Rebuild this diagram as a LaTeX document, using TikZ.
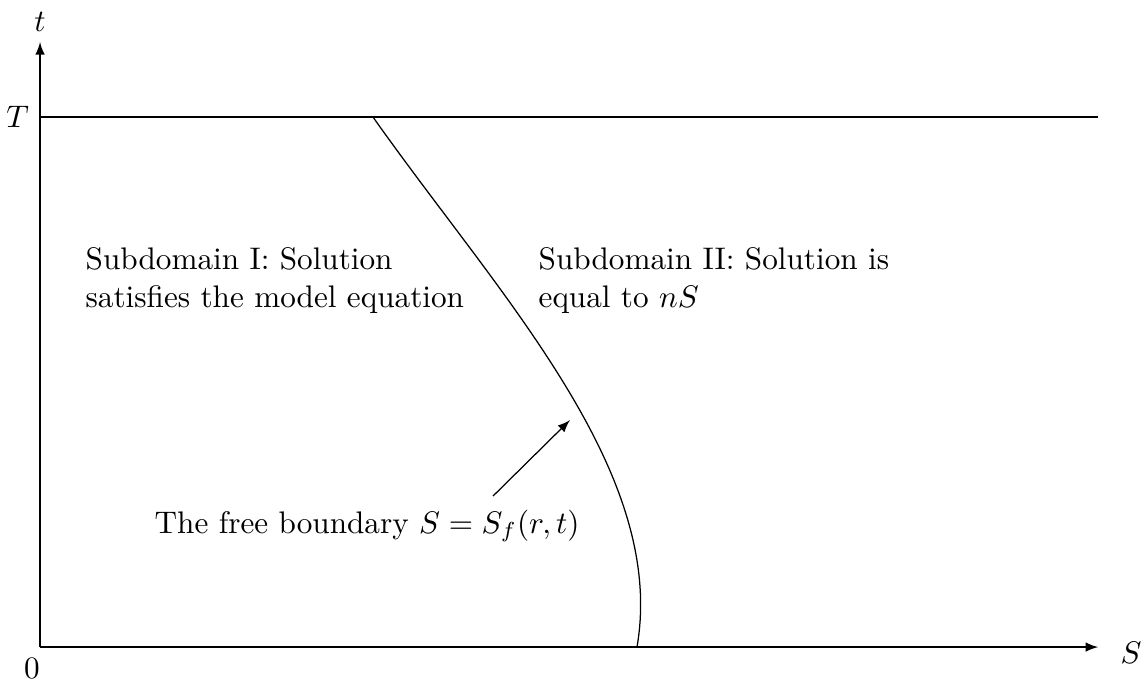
\documentclass[tikz,border=0pt]{standalone}
\usetikzlibrary{arrows,positioning}

\begin{document}
\begin{tikzpicture}[
  ax/.style={-latex},
  lab/.style={inner sep=0pt, anchor=base west, align=left}]
\useasboundingbox (-0.451,-0.406) rectangle (12.425,7.289);
% axes and the line t = T
\coordinate (o)  at (0,0);
\coordinate (xe) at (11.92,0);
\coordinate (ye) at (0,6.815);
\coordinate (tl) at (0,5.97);
\coordinate (tr) at (11.92,5.97);
\draw[ax] (o) -- (xe);
\draw[ax] (o) -- (ye);
\draw (tl) -- (tr);
\node[above] (tlab) at (ye) {$t$};
\node[left]  (Tlab) at (tl) {$T$};
\node (Slab) at (12.29,-0.068) {$S$};
\node (zlab) at (-0.09,-0.237) {$0$};
% free boundary
\draw plot[domain=0:5.97, samples=80, variable=\u]
  ({6.725+0.1729*\u-0.1901*\u*\u+0.01302*\u*\u*\u}, \u);
% texts
\node[lab] (sub1) at (0.507,3.83) {Subdomain I: Solution\\satisfies the model equation};
\node[lab] (sub2) at (5.61,3.83) {Subdomain II: Solution is\\equal to $nS$};
\node[lab] (fb) at (1.284,1.284) {The free boundary $S=S_f(r,t)$};
\coordinate (fbs) at (5.103,1.701);
\coordinate (fbe) at (5.97,2.557);
\draw[ax] (fbs) -- (fbe);
\end{tikzpicture}
\end{document}
